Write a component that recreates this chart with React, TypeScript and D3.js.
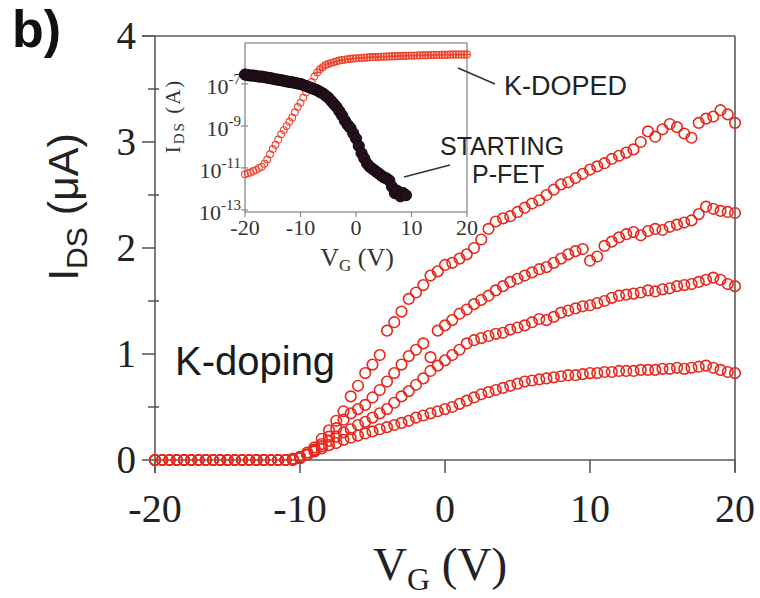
import React from 'react';
import * as d3 from 'd3';

// Gate voltage sweep (V) for the main panel and the inset
const VG = [
  -20, -19.5, -19, -18.5, -18, -17.5, -17, -16.5, -16, -15.5,
  -15, -14.5, -14, -13.5, -13, -12.5, -12, -11.5, -11, -10.5,
  -10, -9.5, -9, -8.5, -8, -7.5, -7, -6.5, -6, -5.5,
  -5, -4.5, -4, -3.5, -3, -2.5, -2, -1.5, -1, -0.5,
  0, 0.5, 1, 1.5, 2, 2.5, 3, 3.5, 4, 4.5,
  5, 5.5, 6, 6.5, 7, 7.5, 8, 8.5, 9, 9.5,
  10, 10.5, 11, 11.5, 12, 12.5, 13, 13.5, 14, 14.5,
  15, 15.5, 16, 16.5, 17, 17.5, 18, 18.5, 19, 19.5,
  20,
];

// Main panel: I_DS (µA) for four K-doping steps
const IDS_1 = [
  0, 0, 0, 0, 0, 0, 0, 0, 0, 0, 0, 0, 0, 0, 0, 0, 0, 0, 0, 0.01,
  0.03, 0.07, 0.12, 0.2, 0.28, 0.37, 0.46, 0.6, 0.7, 0.82,
  0.9, 0.99, 1.22, 1.3, 1.4, 1.52, 1.58, 1.65, 1.74, 1.78,
  1.84, 1.86, 1.9, 1.94, 2.0, 2.08, 2.18, 2.25, 2.28, 2.3,
  2.34, 2.38, 2.42, 2.45, 2.5, 2.55, 2.6, 2.62, 2.66, 2.7,
  2.74, 2.77, 2.8, 2.84, 2.87, 2.9, 2.93, 3.0, 3.1, 3.05,
  3.12, 3.17, 3.14, 3.08, 3.04, 3.18, 3.22, 3.24, 3.3, 3.26,
  3.18,
];
const IDS_2 = [
  0, 0, 0, 0, 0, 0, 0, 0, 0, 0, 0, 0, 0, 0, 0, 0, 0, 0, 0, 0.01,
  0.02, 0.05, 0.1, 0.15, 0.22, 0.3, 0.38, 0.44, 0.48, 0.52,
  0.59, 0.66, 0.74, 0.82, 0.9, 0.98, 1.04, 1.1, 0.97, 1.22,
  1.27, 1.32, 1.38, 1.42, 1.47, 1.51, 1.55, 1.6, 1.64, 1.68,
  1.71, 1.74, 1.77, 1.8, 1.82, 1.86, 1.9, 1.94, 1.97, 1.99,
  1.88, 1.92, 2.02, 2.06, 2.1, 2.13, 2.15, 2.12, 2.16, 2.18,
  2.17, 2.2, 2.22, 2.24, 2.26, 2.32, 2.39, 2.37, 2.35, 2.34,
  2.33,
];
const IDS_3 = [
  0, 0, 0, 0, 0, 0, 0, 0, 0, 0, 0, 0, 0, 0, 0, 0, 0, 0, 0, 0,
  0.02, 0.05, 0.09, 0.13, 0.18, 0.22, 0.26, 0.29, 0.33, 0.36,
  0.4, 0.44, 0.48, 0.54, 0.6, 0.65, 0.71, 0.77, 0.84, 0.89,
  0.94, 0.99, 1.04, 1.1, 1.13, 1.15, 1.17, 1.19, 1.2, 1.23,
  1.25, 1.27, 1.3, 1.33, 1.32, 1.35, 1.39, 1.41, 1.43, 1.45,
  1.46, 1.48, 1.5, 1.53, 1.55, 1.56, 1.57, 1.58, 1.6, 1.59,
  1.61, 1.62, 1.64, 1.65, 1.66, 1.68, 1.7, 1.72, 1.7, 1.66,
  1.64,
];
const IDS_4 = [
  0, 0, 0, 0, 0, 0, 0, 0, 0, 0, 0, 0, 0, 0, 0, 0, 0, 0, 0, 0,
  0.02, 0.05, 0.08, 0.11, 0.14, 0.16, 0.19, 0.21, 0.23, 0.25,
  0.27, 0.29, 0.31, 0.33, 0.35, 0.37, 0.4, 0.42, 0.44, 0.46,
  0.48, 0.5, 0.53, 0.56, 0.59, 0.62, 0.64, 0.66, 0.68, 0.7,
  0.72, 0.74, 0.75, 0.76, 0.77, 0.78, 0.79, 0.8, 0.8, 0.81,
  0.82, 0.82, 0.83, 0.83, 0.84, 0.84, 0.84, 0.85, 0.85, 0.85,
  0.86, 0.86, 0.87, 0.86, 0.87, 0.88, 0.89, 0.87, 0.85, 0.83,
  0.82,
];
const MAIN_SERIES = [IDS_1, IDS_2, IDS_3, IDS_4];

// Inset: log10(I_DS / A)
const K_DOPED_LOG = [
  -11.3, -11.25, -11.22, -11.15, -11.1, -11.0, -10.95, -10.8, -10.6, -10.35,
  -10.1, -9.9, -9.65, -9.4, -9.2, -9.0, -8.8, -8.6, -8.35, -8.1,
  -7.9, -7.65, -7.4, -7.15, -6.9, -6.65, -6.45, -6.3, -6.2, -6.1,
  -6.05, -6.0, -5.96, -5.92, -5.88, -5.86, -5.84, -5.82, -5.8, -5.79,
  -5.78, -5.77, -5.76, -5.75, -5.74, -5.73, -5.72, -5.72, -5.71, -5.7,
  -5.7, -5.69, -5.69, -5.68, -5.68, -5.67, -5.67, -5.66, -5.66, -5.65,
  -5.65, -5.65, -5.64, -5.64, -5.63, -5.63, -5.63, -5.62, -5.62, -5.62,
  -5.62, -5.61, -5.61, -5.61, -5.6, -5.6, -5.6, -5.6, -5.6, -5.6,
  -5.6,
];
const P_FET_LOG = [
  -6.55, -6.58, -6.6, -6.6, -6.62, -6.65, -6.65, -6.68, -6.7, -6.72,
  -6.75, -6.78, -6.8, -6.82, -6.85, -6.88, -6.9, -6.92, -6.95, -6.98,
  -7.0, -7.05, -7.1, -7.15, -7.2, -7.25, -7.3, -7.38, -7.45, -7.55,
  -7.65, -7.8, -7.95, -8.1, -8.3, -8.5, -8.75, -8.95, -9.1, -9.35,
  -9.6, -9.95, -10.3, -10.55, -10.8, -10.95, -11.05, -11.15, -11.25, -11.35,
  -11.45, -11.5, -11.6, -11.9, -12.2, -12.1, -12.35, -12.2, -12.3,
];

const X_TICKS = [-20, -10, 0, 10, 20];
const Y_TICKS = [0, 1, 2, 3, 4];
const Y_MINOR = [0.5, 1.5, 2.5, 3.5];
const INSET_Y_EXP = [-7, -9, -11, -13];

const RED = '#e8281c';
const AXIS = '#5a5a5a';
const SERIF = '"Liberation Serif", "Times New Roman", serif';
const SANS = '"Liberation Sans", Arial, sans-serif';

export default function App() {
  const x = d3.scaleLinear().domain([-20, 20]).range([155, 735]);
  const y = d3.scaleLinear().domain([0, 4]).range([460, 36]);
  const ix = d3.scaleLinear().domain([-20, 20]).range([245, 467]);
  const iy = d3.scaleLinear().domain([-13.1, -5.05]).range([212, 43]);

  return (
    <svg
      width={760}
      height={598}
      style={{ position: 'absolute', left: 0, top: 0, background: '#fff' }}
    >
      <rect width={760} height={598} fill="#fff" />
      {/* panel letter */}
      <text x={12} y={47} fontFamily={SANS} fontWeight="bold" fontSize={52} fill="#111">
        b)
      </text>

      {/* main frame */}
      <g stroke={AXIS} strokeWidth={1.6} fill="none">
        <line x1={142} y1={y(4)} x2={x(20)} y2={y(4)} />
        <line x1={x(20)} y1={y(4)} x2={x(20)} y2={472} />
        <line x1={x(-20)} y1={y(4)} x2={x(-20)} y2={473} />
        <line x1={x(-20)} y1={y(0)} x2={x(20)} y2={y(0)} />
        {Y_TICKS.map((t) => (
          <line key={'yt' + t} x1={142} y1={y(t)} x2={x(-20)} y2={y(t)} />
        ))}
        {Y_MINOR.map((t) => (
          <line key={'ym' + t} x1={148} y1={y(t)} x2={159} y2={y(t)} />
        ))}
        {X_TICKS.map((t) => (
          <line key={'xt' + t} x1={x(t)} y1={y(0)} x2={x(t)} y2={473} />
        ))}
      </g>

      {/* main tick labels */}
      {Y_TICKS.map((t) => (
        <text
          key={'yl' + t}
          x={136}
          y={y(t)}
          dy="0.34em"
          textAnchor="end"
          fontFamily={SERIF}
          fontSize={39}
          fill="#222"
        >
          {t}
        </text>
      ))}
      {X_TICKS.map((t) => (
        <text
          key={'xl' + t}
          x={x(t)}
          y={522}
          textAnchor="middle"
          fontFamily={SERIF}
          fontSize={40}
          fill="#222"
        >
          {t}
        </text>
      ))}

      {/* axis titles */}
      <text x={373} y={580} fontFamily={SERIF} fontSize={47} fill="#222">
        V<tspan fontSize={32} dy={10}>G</tspan>
        <tspan dy={-10}> (V)</tspan>
      </text>
      <text
        transform="translate(78,207) rotate(-90)"
        textAnchor="middle"
        fontFamily={SANS}
        fontSize={43}
        fill="#222"
      >
        I<tspan fontSize={30} dy={9}>DS</tspan>
        <tspan dy={-9}> (μA)</tspan>
      </text>

      <text x={175} y={375} fontFamily={SANS} fontSize={40} fill="#1a1a1a">
        K-doping
      </text>

      {/* main data */}
      <g fill="none" stroke={RED} strokeWidth={1.6}>
        {MAIN_SERIES.map((s, si) =>
          s.map((v, i) => (
            <circle key={si + '-' + i} cx={x(VG[i])} cy={y(v)} r={5.3} />
          ))
        )}
      </g>

      {/* inset */}
      <rect x={ix(-20)} y={iy(-5.05)} width={ix(20) - ix(-20)} height={iy(-13.1) - iy(-5.05)} fill="#fff" stroke="#8a8a8a" strokeWidth={1.3} />
      <g stroke="#8a8a8a" strokeWidth={1.2}>
        {INSET_Y_EXP.map((e) => (
          <line key={'iyt' + e} x1={ix(-20) - 4} y1={iy(e)} x2={ix(-20) + 3} y2={iy(e)} />
        ))}
        {X_TICKS.map((t) => (
          <line key={'ixt' + t} x1={ix(t)} y1={iy(-13.1)} x2={ix(t)} y2={iy(-13.1) + 5} />
        ))}
      </g>
      {INSET_Y_EXP.map((e) => (
        <text
          key={'iyl' + e}
          x={241}
          y={iy(e) + 10}
          textAnchor="end"
          fontFamily={SERIF}
          fontSize={22}
          fill="#333"
        >
          10<tspan fontSize={15} dy={-10}>{e}</tspan>
        </text>
      ))}
      {X_TICKS.map((t) => (
        <text
          key={'ixl' + t}
          x={ix(t)}
          y={235}
          textAnchor="middle"
          fontFamily={SERIF}
          fontSize={22}
          fill="#333"
        >
          {t}
        </text>
      ))}
      <text x={357} y={266} textAnchor="middle" fontFamily={SERIF} fontSize={26} fill="#333">
        V<tspan fontSize={17} dy={5}>G</tspan>
        <tspan dy={-5}> (V)</tspan>
      </text>
      <text
        transform="translate(180,116) rotate(-90)"
        textAnchor="middle"
        fontFamily={SERIF}
        fontSize={21}
        letterSpacing={2}
        fill="#333"
      >
        I<tspan fontSize={15} dy={4}>DS</tspan>
        <tspan dy={-4}> (A)</tspan>
      </text>

      {/* inset data */}
      <g>
        {K_DOPED_LOG.map((v, i) => (
          <circle key={'kd' + i} cx={ix(VG[i])} cy={iy(v)} r={3.4} fill="none" stroke="#f0442e" strokeWidth={1.1} />
        ))}
        {K_DOPED_LOG.map((v, i) =>
          VG[i] >= -7 ? (
            <path
              key={'kp' + i}
              d={`M${ix(VG[i]) - 4},${iy(v)}h8M${ix(VG[i])},${iy(v) - 4}v8`}
              stroke="#f0442e"
              strokeWidth={1}
            />
          ) : null
        )}
        {P_FET_LOG.map((v, i) => (
          <circle key={'pf' + i} cx={ix(VG[i])} cy={iy(v)} r={5.6} fill="#24101c" stroke="#140810" strokeWidth={1} />
        ))}
      </g>

      {/* annotations */}
      <g stroke="#333" strokeWidth={1.5}>
        <line x1={458} y1={68} x2={495} y2={84} />
        <line x1={404} y1={177} x2={450} y2={165} />
      </g>
      <g fontFamily={SANS} fontSize={25} fill="#222">
        <text x={504} y={95} fontSize={27}>K-DOPED</text>
        <text x={440} y={155}>STARTING</text>
        <text x={472} y={183}>P-FET</text>
      </g>
    </svg>
  );
}
